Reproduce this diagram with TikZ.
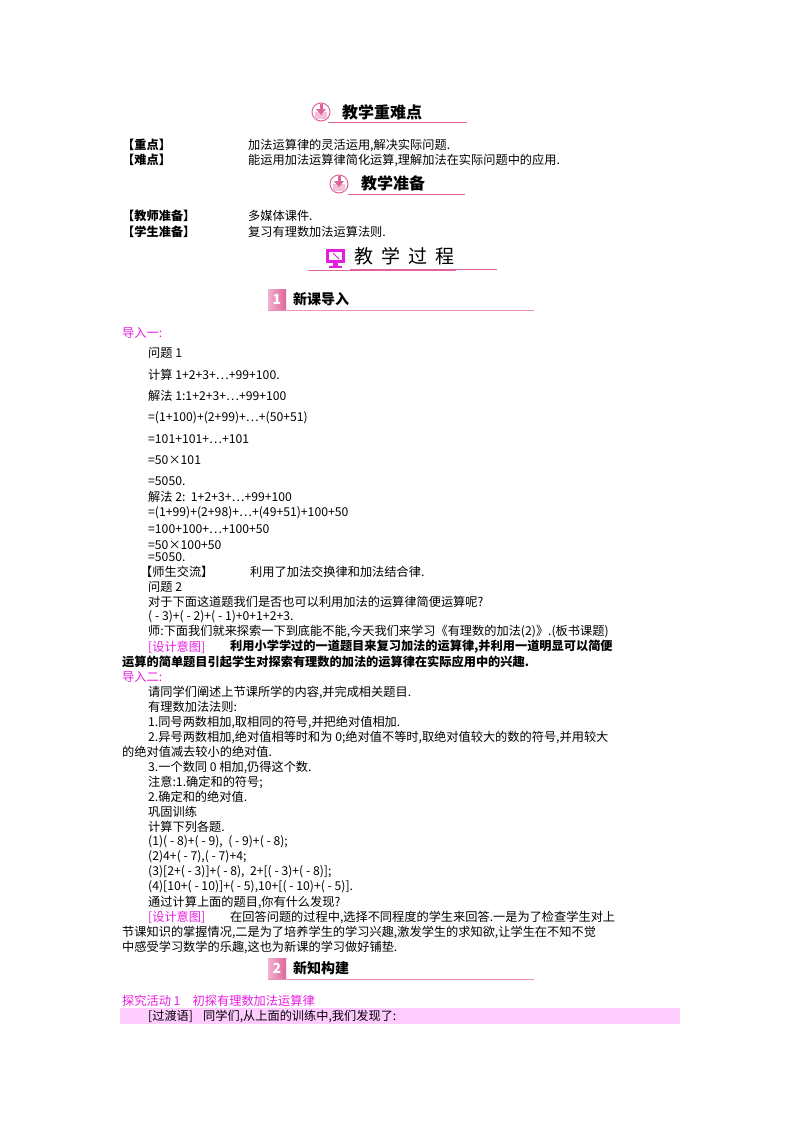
\documentclass[tikz,border=0pt]{standalone}
\usepackage{fontspec}
\setmainfont{Noto Sans CJK SC}
\definecolor{mag}{HTML}{E81CE0}
\definecolor{pk}{HTML}{E0649C}
\definecolor{band}{HTML}{FFCCFF}
\begin{document}
\begin{tikzpicture}[x=1pt,y=-1pt,
  t/.style={anchor=west,inner sep=0pt,font=\fontsize{12.2}{13}\selectfont},
  tb/.style={t,font=\fontsize{12.2}{13}\selectfont\bfseries},
  m/.style={t,text=mag},
  hd/.style={anchor=west,inner sep=0pt,font=\fontsize{16}{17}\selectfont\bfseries},
  ul/.style={draw=pk,line width=0.8pt}]
\useasboundingbox (0,0) rectangle (800,1132);
% heading 1
\draw[pk,line width=1pt] (321,112) circle (9);
\fill[pk!40] (315,112) rectangle (327,119);
\fill[pk] (319.5,104) rectangle (322.5,110); \fill[pk] (316,109)--(326,109)--(321,115)--cycle;
\node[hd] (h1) at (342,112) {教学重难点};
\draw[ul] (328,122) -- (467,122);
\node[tb] (a1) at (122,145) {【重点】}; \node[t] at (248,145) {加法运算律的灵活运用,解决实际问题.};
\node[tb] (a2) at (122,160) {【难点】}; \node[t] at (248,160) {能运用加法运算律简化运算,理解加法在实际问题中的应用.};
% heading 2
\draw[pk,line width=1pt] (339,184) circle (9);
\fill[pk!40] (333,184) rectangle (345,191);
\fill[pk] (337.5,176) rectangle (340.5,182); \fill[pk] (334,181)--(344,181)--(339,187)--cycle;
\node[hd] (h2) at (361,183) {教学准备};
\draw[ul] (348,194) -- (465,194);
\node[tb] at (122,216) {【教师准备】}; \node[t] at (248,216) {多媒体课件.};
\node[tb] at (122,232) {【学生准备】}; \node[t] at (248,232) {复习有理数加法运算法则.};
% heading 3
\fill[mag] (326,249) rectangle (345,263); \fill[white] (329,252) rectangle (342,260);
\fill[mag] (333,263) rectangle (338,266); \fill[mag] (329,266) rectangle (342,268);
\draw[mag,line width=1pt] (333,253)--(339,259);
\node[anchor=west,inner sep=0pt,font=\fontsize{19}{20}\selectfont] (h3) at (354,256) {教\hspace{8pt}学\hspace{8pt}过\hspace{8pt}程};
\draw[ul] (308,270) -- (456,270); \draw[ul] (350,269) -- (497,269);
% section 1
\shade[left color=pk!50,right color=pk] (268,289) rectangle (286,309);
\node[font=\bfseries\itshape\fontsize{14}{14}\selectfont,text=white] at (277,299) {1};
\node[hd,font=\fontsize{14}{15}\selectfont\bfseries] at (293,299) {新课导入};
\draw[ul,draw=pk!70] (268,310) -- (534,310);
\node[m] at (122,333) {导入一:};
\node[t] at (148,353) {问题 1};
\node[t] at (148,375) {计算 1+2+3+…+99+100.};
\node[t] at (148,396) {解法 1:1+2+3+…+99+100};
\node[t] at (148,418) {=(1+100)+(2+99)+…+(50+51)};
\node[t] at (148,439) {=101+101+…+101};
\node[t] at (148,460) {=50×101};
\node[t] at (148,481) {=5050.};
\node[t] at (148,497) {解法 2:\ \ 1+2+3+…+99+100};
\node[t] at (148,513) {=(1+99)+(2+98)+…+(49+51)+100+50};
\node[t] at (148,529) {=100+100+…+100+50};
\node[t] at (148,545) {=50×100+50};
\node[t] at (148,557) {=5050.};
\node[t] at (140,572) {【师生交流】}; \node[t] at (250,572) {利用了加法交换律和加法结合律.};
\node[t] at (148,587) {问题 2};
\node[t] at (148,602) {对于下面这道题我们是否也可以利用加法的运算律简便运算呢?};
\node[t] at (148,617) {( - 3)+( - 2)+( - 1)+0+1+2+3.};
\node[t] at (148,632) {师:下面我们就来探索一下到底能不能,今天我们来学习《有理数的加法(2)》.(板书课题)};
\node[m] at (148,647) {[设计意图]};
\node[tb] at (230,647) {利用小学学过的一道题目来复习加法的运算律,并利用一道明显可以简便};
\node[tb] at (122,662) {运算的简单题目引起学生对探索有理数的加法的运算律在实际应用中的兴趣.};
\node[m] at (122,677) {导入二:};
\node[t] at (148,692) {请同学们阐述上节课所学的内容,并完成相关题目.};
\node[t] at (148,707) {有理数加法法则:};
\node[t] at (148,722) {1.同号两数相加,取相同的符号,并把绝对值相加.};
\node[t] at (148,737) {2.异号两数相加,绝对值相等时和为 0;绝对值不等时,取绝对值较大的数的符号,并用较大};
\node[t] at (122,752) {的绝对值减去较小的绝对值.};
\node[t] at (148,767) {3.一个数同 0 相加,仍得这个数.};
\node[t] at (148,782) {注意:1.确定和的符号;};
\node[t] at (148,797) {2.确定和的绝对值.};
\node[t] at (148,812) {巩固训练};
\node[t] at (148,827) {计算下列各题.};
\node[t] at (148,842) {(1)( - 8)+( - 9),\ \ ( - 9)+( - 8);};
\node[t] at (148,857) {(2)4+( - 7),( - 7)+4;};
\node[t] at (148,872) {(3)[2+( - 3)]+( - 8),\ \ 2+[( - 3)+( - 8)];};
\node[t] at (148,887) {(4)[10+( - 10)]+( - 5),10+[( - 10)+( - 5)].};
\node[t] at (148,902) {通过计算上面的题目,你有什么发现?};
\node[m] at (148,917) {[设计意图]};
\node[t] at (230,917) {在回答问题的过程中,选择不同程度的学生来回答.一是为了检查学生对上};
\node[t] at (122,932) {节课知识的掌握情况,二是为了培养学生的学习兴趣,激发学生的求知欲,让学生在不知不觉};
\node[t] at (122,947) {中感受学习数学的乐趣,这也为新课的学习做好铺垫.};
% section 2
\shade[left color=pk!50,right color=pk] (268,958) rectangle (286,978);
\node[font=\bfseries\itshape\fontsize{14}{14}\selectfont,text=white] at (277,968) {2};
\node[hd,font=\fontsize{14}{15}\selectfont\bfseries] at (293,968) {新知构建};
\draw[ul,draw=pk!70] (268,979) -- (534,979);
\node[m] at (122,1001) {探究活动 1\quad 初探有理数加法运算律};
\fill[band] (120,1008) rectangle (680,1024);
\node[t] at (148,1016) {[过渡语]}; \node[t] at (203,1016) {同学们,从上面的训练中,我们发现了:};
\end{tikzpicture}
\end{document}
